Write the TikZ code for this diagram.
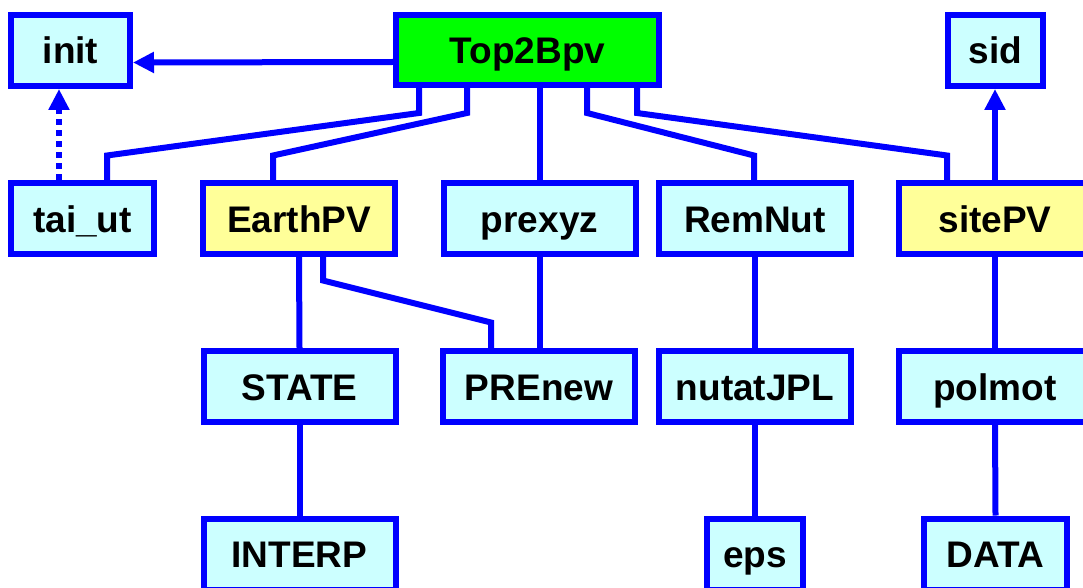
\documentclass[tikz,border=0pt]{standalone}
\usepackage{fontspec}
\setmainfont{Liberation Sans}
\usetikzlibrary{arrows.meta}

\definecolor{bleu}{RGB}{0,0,255}
\definecolor{cyanclair}{RGB}{204,255,255}
\definecolor{jaune}{RGB}{255,255,153}
\definecolor{vert}{RGB}{0,255,0}

\tikzset{
  boite/.style={draw=bleu, line width=6pt, fill=cyanclair, inner sep=0pt,
    minimum width=192pt, minimum height=71pt, text height=27pt, text depth=0pt,
    font=\fontsize{37}{40}\selectfont\bfseries},
  lien/.style={draw=bleu, line width=6pt},
  fleche/.style={lien, -{Triangle[length=21pt,width=20pt]}}
}

\begin{document}
\begin{tikzpicture}[x=1pt, y=-1pt]
    \useasboundingbox (0,0) rectangle (1083,588);
    \clip (0,0) rectangle (1083,588);

    % Ligne du haut
    \node[boite, fill=vert, minimum width=263pt, minimum height=70pt] (Top2Bpv) at (527.5,50) {Top2Bpv};
    \node[boite, minimum width=119pt] (init) at (70.5,50.5) {init};
    \node[boite, minimum width=95pt] (sid) at (995.5,50.5) {sid};

    % Deuxieme ligne
    \node[boite, minimum width=143pt] (tai_ut) at (82.5,218.5) {tai\_ut};
    \node[boite, fill=jaune] (EarthPV) at (299,218.5) {EarthPV};
    \node[boite] (prexyz) at (539.5,218.5) {prexyz};
    \node[boite] (RemNut) at (755,218.5) {RemNut};
    \node[boite, fill=jaune] (sitePV) at (995,218.5) {sitePV};

    % Troisieme ligne
    \node[boite] (STATE) at (299.5,386.5) {STATE};
    \node[boite] (PREnew) at (539,386.5) {PREnew};
    \node[boite] (nutatJPL) at (755,386.5) {nutatJPL};
    \node[boite] (polmot) at (995,386.5) {polmot};

    % Ligne du bas (coupee par le bord)
    \node[boite] (INTERP) at (299.5,554) {INTERP};
    \node[boite, minimum width=96pt] (eps) at (755,554) {eps};
    \node[boite, minimum width=143pt] (DATA) at (995.5,554) {DATA};

    % Appels depuis Top2Bpv
    \draw[fleche] ([yshift=-12pt]Top2Bpv.west) -- ([yshift=-12pt]init.east);
    \draw[lien] ([xshift=-108.5pt]Top2Bpv.south) -- ++(0,25)
        -- ([xshift=24.5pt,yshift=24.5pt]tai_ut.north) -- ([xshift=24.5pt]tai_ut.north);
    \draw[lien] ([xshift=-60.5pt]Top2Bpv.south) -- ++(0,25)
        -- ([xshift=-26pt,yshift=24.5pt]EarthPV.north) -- ([xshift=-26pt]EarthPV.north);
    \draw[lien] (prexyz.north) -- (prexyz.north |- Top2Bpv.south);
    \draw[lien] ([xshift=59.5pt]Top2Bpv.south) -- ++(0,25)
        -- ([xshift=-1pt,yshift=24.5pt]RemNut.north) -- ([xshift=-1pt]RemNut.north);
    \draw[lien] ([xshift=109.5pt]Top2Bpv.south) -- ++(0,25)
        -- ([xshift=-48pt,yshift=24.5pt]sitePV.north) -- ([xshift=-48pt]sitePV.north);

    % Fleches vers init et sid
    \draw[fleche, dash pattern=on 6pt off 5pt]
        ([xshift=-23.5pt]tai_ut.north) -- ([xshift=-23.5pt]tai_ut.north |- init.south);
    \draw[fleche] (sitePV.north) -- (sitePV.north |- sid.south);

    % Sous-arbres
    \draw[lien] (EarthPV.south) -- (STATE.north);
    \draw[lien] ([xshift=24pt]EarthPV.south) -- ++(0,23.5)
        -- ([xshift=-48pt,yshift=25.5pt]PREnew.north) -- ([xshift=-48pt]PREnew.north);
    \draw[lien] (prexyz.south) -- (prexyz.south |- PREnew.north);
    \draw[lien] (RemNut.south) -- (nutatJPL.north);
    \draw[lien] (sitePV.south) -- (polmot.north);
    \draw[lien] (STATE.south) -- (INTERP.north);
    \draw[lien] (nutatJPL.south) -- (eps.north);
    \draw[lien] (polmot.south) -- (DATA.north);
\end{tikzpicture}
\end{document}
